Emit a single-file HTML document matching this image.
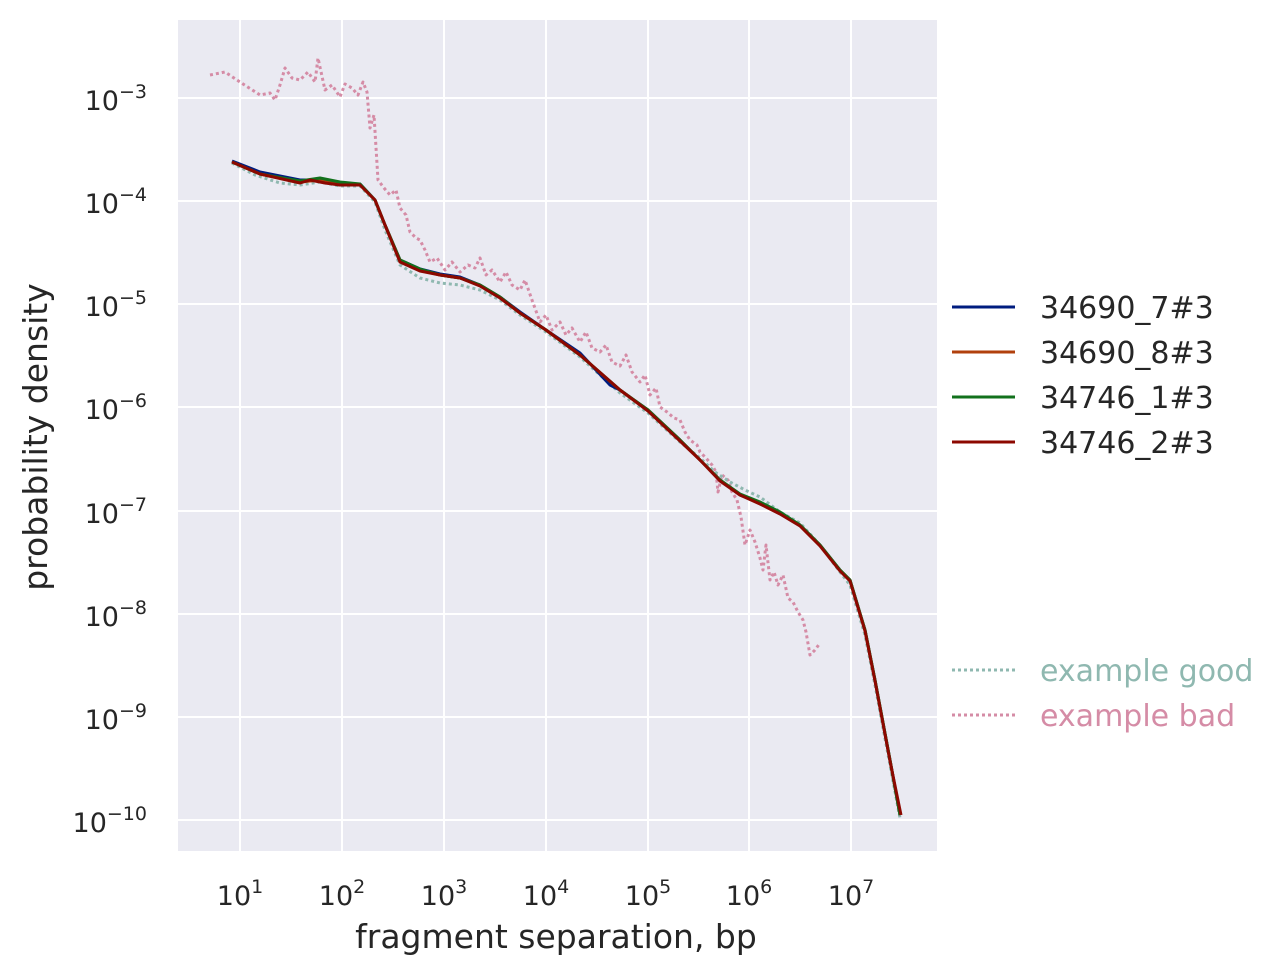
<!DOCTYPE html>
<html><head><meta charset="utf-8"><style>body{margin:0;background:#fff}svg{display:block}text{font-family:"DejaVu Sans","Liberation Sans",sans-serif;fill:#262626}</style></head><body>
<svg width="1283" height="976" viewBox="0 0 1283 976" xmlns="http://www.w3.org/2000/svg">
<rect x="178" y="20" width="759" height="831" fill="#eaeaf2"/>
<g stroke="#fff" stroke-width="2">
<line x1="178" x2="937" y1="98" y2="98"/><line x1="178" x2="937" y1="201" y2="201"/><line x1="178" x2="937" y1="304" y2="304"/><line x1="178" x2="937" y1="407" y2="407"/><line x1="178" x2="937" y1="511" y2="511"/><line x1="178" x2="937" y1="614" y2="614"/><line x1="178" x2="937" y1="717" y2="717"/><line x1="178" x2="937" y1="820" y2="820"/>
<line y1="20" y2="851" x1="240" x2="240"/><line y1="20" y2="851" x1="342" x2="342"/><line y1="20" y2="851" x1="444" x2="444"/><line y1="20" y2="851" x1="546" x2="546"/><line y1="20" y2="851" x1="648" x2="648"/><line y1="20" y2="851" x1="749" x2="749"/><line y1="20" y2="851" x1="851" x2="851"/>
</g>
<g font-size="27" text-anchor="end">
<text x="147" y="110">10<tspan font-size="19" dy="-12">−3</tspan></text>
<text x="147" y="213">10<tspan font-size="19" dy="-12">−4</tspan></text>
<text x="147" y="316">10<tspan font-size="19" dy="-12">−5</tspan></text>
<text x="147" y="419">10<tspan font-size="19" dy="-12">−6</tspan></text>
<text x="147" y="523">10<tspan font-size="19" dy="-12">−7</tspan></text>
<text x="147" y="626">10<tspan font-size="19" dy="-12">−8</tspan></text>
<text x="147" y="729">10<tspan font-size="19" dy="-12">−9</tspan></text>
<text x="147" y="832">10<tspan font-size="19" dy="-12">−10</tspan></text>
</g>
<g font-size="27" text-anchor="middle">
<text x="240" y="905">10<tspan font-size="19" dy="-12">1</tspan></text>
<text x="342" y="905">10<tspan font-size="19" dy="-12">2</tspan></text>
<text x="444" y="905">10<tspan font-size="19" dy="-12">3</tspan></text>
<text x="546" y="905">10<tspan font-size="19" dy="-12">4</tspan></text>
<text x="648" y="905">10<tspan font-size="19" dy="-12">5</tspan></text>
<text x="749" y="905">10<tspan font-size="19" dy="-12">6</tspan></text>
<text x="851" y="905">10<tspan font-size="19" dy="-12">7</tspan></text>
</g>
<text x="556" y="948" font-size="33" text-anchor="middle">fragment separation, bp</text>
<text transform="translate(47,437) rotate(-90)" font-size="33" text-anchor="middle">probability density</text>
<g fill="none" stroke-width="3" stroke-linejoin="round">
<polyline stroke="#d58ca6" stroke-dasharray="3,3" points="210,75 225,72 240,82 260,95 270,93 275,100 280,85 285,68 292,78 300,80 308,72 315,82 318,58 325,90 332,85 340,97 345,84 352,88 358,95 363,82 367,92 370,128 374,115 378,180 384,188 390,195 396,190 400,208 406,215 410,232 416,238 420,240 425,250 430,262 437,258 445,270 452,262 460,272 468,265 475,268 480,258 486,275 492,270 500,282 506,272 512,285 520,290 525,280 532,300 540,322 546,315 552,330 560,322 566,335 572,328 580,342 586,332 592,348 600,352 606,345 612,362 620,366 626,355 632,372 640,382 645,375 650,395 656,388 660,407 667,412 674,418 680,420 685,432 690,440 697,445 700,452 706,458 712,465 716,472 718,492 722,475 728,480 732,492 737,500 741,517 745,545 750,530 755,542 760,558 763,570 766,545 770,580 774,572 778,585 783,575 788,598 793,602 798,612 803,620 806,632 810,655 815,650 820,643"/>
<polyline stroke="#8fb8b0" stroke-dasharray="3,3" points="232,163 255,175 280,183 300,185 320,182 340,186 360,186 375,202 385,230 400,265 420,278 440,283 460,285 480,290 500,300 520,315 546,332 580,357 620,393 648,413 680,442 700,458 715,472 730,482 745,490 760,497 780,512 800,523 820,545 840,572 850,585 865,635 875,685 890,765 900,818"/>
<polyline stroke="#001c7f" points="232,161 260,172 300,180 320,180 340,185 360,184 375,200 385,225 400,260 420,269 440,274 460,277 480,285 500,297 520,312 546,330 580,353 610,385 620,390 648,410 680,440 700,460 720,480 740,495 760,503 780,513 800,525 820,545 840,570 850,580 865,630 875,680 890,760 900,815"/>
<polyline stroke="#b1400d" points="232,162 260,174 300,182 320,180 340,185 360,185 375,200 385,225 400,260 420,270 440,275 460,278 480,285 500,297 520,313 546,330 580,355 620,390 648,410 680,440 700,460 720,480 740,495 760,503 780,513 800,525 820,545 840,570 850,580 865,630 875,680 890,760 900,815"/>
<polyline stroke="#12711c" points="232,162 260,174 300,181 320,178 340,182 360,184 375,200 385,225 400,260 420,269 440,275 460,278 480,285 500,297 520,313 546,330 580,355 620,390 648,410 680,440 700,460 720,480 740,494 760,502 780,512 800,525 820,545 840,570 850,580 865,630 875,680 890,760 900,815"/>
<polyline stroke="#8c0800" points="232,162 260,174 300,183 310,180 325,183 340,185 360,185 375,200 385,225 400,262 420,271 440,275 460,278 480,286 500,298 520,313 546,330 580,355 620,390 648,411 680,441 700,460 720,481 740,495 760,504 780,514 800,526 820,546 840,571 850,581 865,631 875,681 890,761 901,815"/>
</g>
<g stroke-width="3">
<line x1="952" x2="1015" y1="307" y2="307" stroke="#001c7f"/>
<line x1="952" x2="1015" y1="352" y2="352" stroke="#b1400d"/>
<line x1="952" x2="1015" y1="397" y2="397" stroke="#12711c"/>
<line x1="952" x2="1015" y1="442" y2="442" stroke="#8c0800"/>
<line x1="952" x2="1015" y1="670" y2="670" stroke="#8fb8b0" stroke-dasharray="3,3"/>
<line x1="952" x2="1015" y1="715" y2="715" stroke="#d58ca6" stroke-dasharray="3,3"/>
</g>
<g font-size="30">
<text x="1040" y="318">34690_7#3</text>
<text x="1040" y="363">34690_8#3</text>
<text x="1040" y="408">34746_1#3</text>
<text x="1040" y="453">34746_2#3</text>
<text x="1040" y="681" style="fill:#8fb8b0">example good</text>
<text x="1040" y="726" style="fill:#d58ca6">example bad</text>
</g>
</svg>
</body></html>
